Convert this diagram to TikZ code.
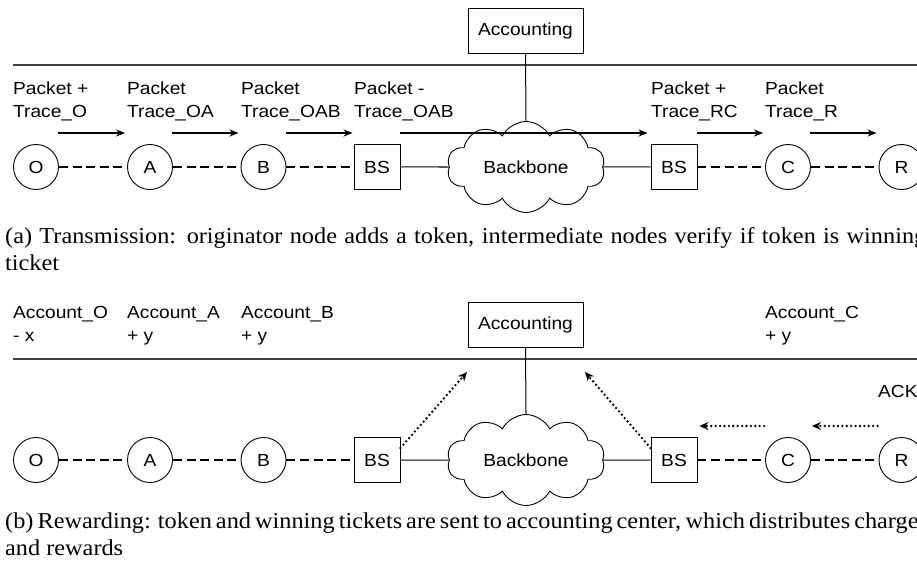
\documentclass[tikz,border=0pt]{standalone}
\usepackage{fontspec}
\setmainfont{Liberation Serif}[FakeStretch=1.07]
\setsansfont{Liberation Sans}[FakeStretch=1.095]
\usetikzlibrary{shapes.symbols,arrows.meta,calc}
\tikzset{
  sf/.style={font=\sffamily\fontsize{17.5}{23}\selectfont},
  peer/.style={sf,draw,circle,minimum size=45pt,inner sep=0pt,line width=0.9pt},
  station/.style={sf,draw,rectangle,minimum width=46pt,minimum height=45pt,inner sep=0pt,line width=0.9pt},
  acct/.style={sf,draw,rectangle,minimum width=115pt,minimum height=45pt,inner sep=0pt,line width=0.9pt},
  bone/.style={sf,draw,cloud,cloud puffs=10,cloud puff arc=125,cloud ignores aspect,minimum width=158pt,minimum height=91pt,inner sep=0pt,line width=0.9pt},
  lbl/.style={sf,anchor=north west,inner sep=0pt,align=left},
  capt/.style={font=\rmfamily\fontsize{22.7}{27}\selectfont,anchor=north west,inner sep=0pt,align=left},
  wire/.style={line width=1pt},
  radio/.style={line width=1.8pt,dash pattern=on 9pt off 4.6pt},
  flow/.style={line width=1.5pt,-{Stealth[length=9pt,width=7pt]}},
  dots/.style={line width=2.6pt,line cap=round,dash pattern=on 0pt off 4.4pt,-{Stealth[length=9pt,width=8pt,line cap=butt]}},
  sep/.style={line width=1.1pt,draw=black!75},
}
\begin{document}
\begin{tikzpicture}[x=1pt,y=-1pt]
\useasboundingbox (0,0) rectangle (917,572);
\clip (0,0) rectangle (917,572);
% ---------------- panel (a) ----------------
\coordinate (sepA0) at (13,65);
\coordinate (sepA1) at (917,65);
\draw[sep] (sepA0) -- (sepA1);
\node[acct] (accA) at (525.5,30.5) {Accounting};
\node[bone] (bbA) at (526,167) {Backbone};
\node[peer] (O) at (36,167) {O};
\node[peer] (A) at (150,167) {A};
\node[peer] (B) at (263.5,167) {B};
\node[station] (bsA1) at (377,167) {BS};
\node[station] (bsA2) at (674,167) {BS};
\node[peer] (C) at (788,167) {C};
\node[peer] (R) at (901.5,167) {R};
\draw[wire] (accA.south) -- (bbA.north);
\draw[wire] (bsA1.east) -- (bbA.west);
\draw[wire] (bbA.east) -- (bsA2.west);
\draw[radio] (O) -- (A);
\draw[radio] (A) -- (B);
\draw[radio] (B) -- (bsA1);
\draw[radio] (bsA2) -- (C);
\draw[radio] (C) -- (R);
\coordinate (rowA) at (0,133);
\draw[flow] ([xshift=-0.5pt]O.east |- rowA) -- ([xshift=-2pt]A.west |- rowA);
\draw[flow] ([xshift=-0.5pt]A.east |- rowA) -- ([xshift=-2pt]B.west |- rowA);
\draw[flow] ([xshift=-0.5pt]B.east |- rowA) -- ([xshift=-1pt]bsA1.west |- rowA);
\draw[flow] (bsA1.east |- rowA) -- ([xshift=-3pt]bsA2.west |- rowA);
\draw[flow] (bsA2.east |- rowA) -- ([xshift=-2pt]C.west |- rowA);
\draw[flow] ([xshift=-0.5pt]C.east |- rowA) -- ([xshift=-2pt]R.west |- rowA);
\node[lbl] (tO) at (13,81.5) {Packet +\\Trace\_O};
\node[lbl] (tA) at (127,81.5) {Packet\\Trace\_OA};
\node[lbl] (tB) at (241,81.5) {Packet\\Trace\_OAB};
\node[lbl] (tBS) at (354,81.5) {Packet -\\Trace\_OAB};
\node[lbl] (tBS2) at (651,81.5) {Packet +\\Trace\_RC};
\node[lbl] (tC) at (765,81.5) {Packet\\Trace\_R};
\node[capt] (capA) at (5,227.3) {\hbox to 921pt{(a) Transmission: originator node adds a token, intermediate nodes verify if token is winning}\\ticket};
% ---------------- panel (b) ----------------
\coordinate (sepB0) at (13,359);
\coordinate (sepB1) at (917,359);
\draw[sep] (sepB0) -- (sepB1);
\node[acct] (accB) at (525.5,325) {Accounting};
\node[bone] (bbB) at (526,460) {Backbone};
\node[peer] (O2) at (36,460) {O};
\node[peer] (A2) at (150,460) {A};
\node[peer] (B2) at (263.5,460) {B};
\node[station] (bsB1) at (377,460) {BS};
\node[station] (bsB2) at (674,460) {BS};
\node[peer] (C2) at (788,460) {C};
\node[peer] (R2) at (901.5,460) {R};
\draw[wire] (accB.south) -- (bbB.north);
\draw[wire] (bsB1.east) -- (bbB.west);
\draw[wire] (bbB.east) -- (bsB2.west);
\draw[radio] (O2) -- (A2);
\draw[radio] (A2) -- (B2);
\draw[radio] (B2) -- (bsB1);
\draw[radio] (bsB2) -- (C2);
\draw[radio] (C2) -- (R2);
\coordinate (rowB) at (0,426);
\draw[dots] ([xshift=-1pt]R2.west |- rowB) -- ([xshift=1pt]C2.east |- rowB);
\draw[dots] ([xshift=-1pt]C2.west |- rowB) -- ([xshift=2pt]bsB2.east |- rowB);
\coordinate (upL) at (467,372);
\coordinate (upR) at (585,372);
\draw[dots] ([yshift=-11pt]bsB1.north east) -- (upL);
\draw[dots] ([yshift=-11pt]bsB2.north west) -- (upR);
\node[lbl] (aO) at (13,306.5) {Account\_O\\- x};
\node[lbl] (aA) at (127,306.5) {Account\_A\\+ y};
\node[lbl] (aB) at (241,306.5) {Account\_B\\+ y};
\node[lbl] (aC) at (765,306.5) {Account\_C\\+ y};
\node[lbl] (ack) at (878,385.5) {ACK};
\node[capt] (capB) at (5,512.3) {\hbox to 922pt{(b) Rewarding: token and winning tickets are sent to accounting center, which distributes charges}\\and rewards};
\end{tikzpicture}
\end{document}
